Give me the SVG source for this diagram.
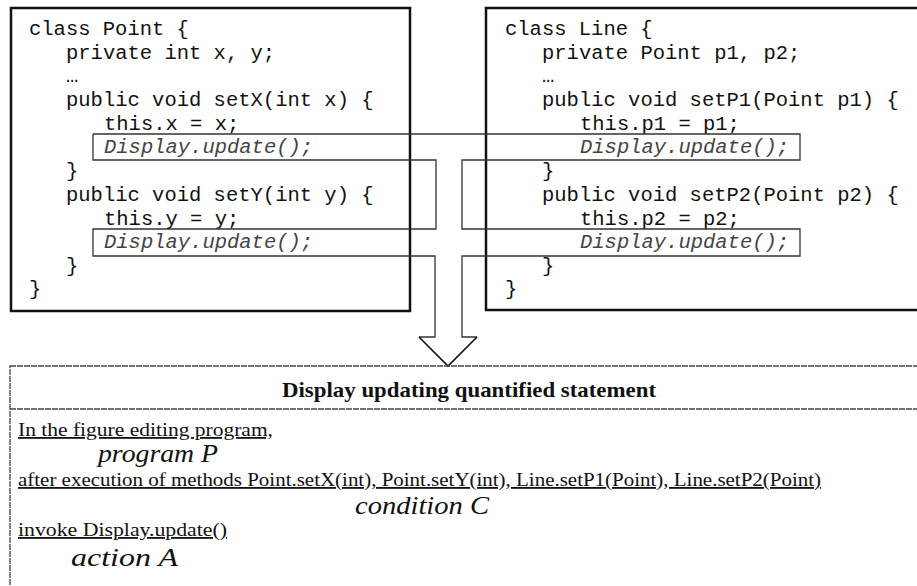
<svg xmlns="http://www.w3.org/2000/svg" width="917" height="586" viewBox="0 0 917 586">
  <style>
    .frame { fill: none; stroke: #111; stroke-width: 2.5; }
    .code { font-family: "Liberation Mono", "Courier New", monospace; font-size: 20.5px; fill: #111; }
    .call { font-family: "Liberation Mono", "Courier New", monospace; font-size: 20.5px; font-style: italic; fill: #444; }
    .pipe { fill: none; stroke: #333; stroke-width: 1.3; stroke-linejoin: miter; }
    .head { fill: none; stroke: #111; stroke-width: 1.6; }
    .panel { fill: none; stroke: #444; stroke-width: 1.3; stroke-dasharray: 6 1; }
    .title { font-family: "Liberation Serif", "Times New Roman", serif; font-size: 21px; font-weight: bold; fill: #111; }
    .body { font-family: "Liberation Serif", "Times New Roman", serif; font-size: 18px; fill: #111; text-decoration: underline; }
    .role { font-family: "Liberation Serif", "Times New Roman", serif; font-size: 25px; font-style: italic; fill: #111; }
  </style>

  <!-- class Point -->
  <g id="point-class">
    <rect class="frame" x="11" y="8" width="399" height="303"/>
    <text class="code" x="29" y="35">class Point {</text>
    <text class="code" x="66" y="59">private int x, y;</text>
    <text class="code" x="66" y="82">…</text>
    <text class="code" x="66" y="106">public void setX(int x) {</text>
    <text class="code" x="104" y="130">this.x = x;</text>
    <text class="call" x="104" y="153">Display.update();</text>
    <text class="code" x="66" y="177">}</text>
    <text class="code" x="66" y="201">public void setY(int y) {</text>
    <text class="code" x="104" y="225">this.y = y;</text>
    <text class="call" x="104" y="248">Display.update();</text>
    <text class="code" x="66" y="272">}</text>
    <text class="code" x="29" y="295">}</text>
  </g>

  <!-- class Line -->
  <g id="line-class">
    <rect class="frame" x="486" y="8" width="440" height="302"/>
    <text class="code" x="505" y="35">class Line {</text>
    <text class="code" x="542" y="59">private Point p1, p2;</text>
    <text class="code" x="542" y="82">…</text>
    <text class="code" x="542" y="106">public void setP1(Point p1) {</text>
    <text class="code" x="580" y="130">this.p1 = p1;</text>
    <text class="call" x="580" y="153">Display.update();</text>
    <text class="code" x="542" y="177">}</text>
    <text class="code" x="542" y="201">public void setP2(Point p2) {</text>
    <text class="code" x="580" y="225">this.p2 = p2;</text>
    <text class="call" x="580" y="248">Display.update();</text>
    <text class="code" x="542" y="272">}</text>
    <text class="code" x="505" y="295">}</text>
  </g>

  <!-- channel joining the Display.update() calls into one arrow -->
  <g id="connectors">
    <path class="pipe" d="M93,134 H800 V160 H462 V229 H800 V256 H462 V337 H477 M419,337 H435 V256 H93 V229 H436 V160 H93 V134"/>
    <path class="head" d="M477,337 L448,366 L419,337"/>
  </g>

  <!-- quantified statement -->
  <g id="statement">
    <rect class="panel" x="10" y="366" width="930" height="240"/>
    <line class="panel" x1="10" y1="409" x2="917" y2="409"/>
    <text class="title" x="469" y="397" text-anchor="middle" textLength="374" lengthAdjust="spacingAndGlyphs">Display updating quantified statement</text>
    <text class="body" x="18" y="436" textLength="255" lengthAdjust="spacingAndGlyphs">In the figure editing program,</text>
    <text class="role" x="98" y="462" textLength="120" lengthAdjust="spacingAndGlyphs">program P</text>
    <text class="body" x="18" y="486" textLength="803" lengthAdjust="spacingAndGlyphs">after execution of methods Point.setX(int), Point.setY(int), Line.setP1(Point), Line.setP2(Point)</text>
    <text class="role" x="355" y="514" textLength="134" lengthAdjust="spacingAndGlyphs">condition C</text>
    <text class="body" x="18" y="536" textLength="209" lengthAdjust="spacingAndGlyphs">invoke Display.update()</text>
    <text class="role" x="71" y="566" textLength="107" lengthAdjust="spacingAndGlyphs">action A</text>
  </g>
</svg>
